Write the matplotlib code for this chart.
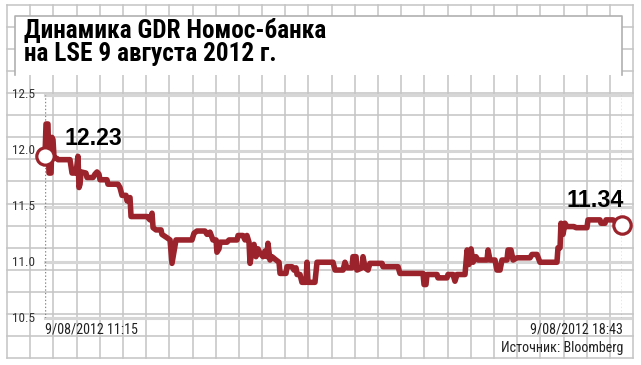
import matplotlib.pyplot as plt
from matplotlib import font_manager as fm
from matplotlib.patches import Rectangle
from matplotlib.transforms import blended_transform_factory

# minutes after 11:15 and GDR price, USD
minutes = [0, 0.8, 2.3, 3.1, 4.7, 5.4, 6.2, 7.0, 9.3, 10.1, 19.4, 21.0, 24.1, 25.6, 26.4,
           27.2, 28.0, 31.8, 32.6, 37.3, 38.8, 40.4, 41.9, 42.7, 48.1, 48.9, 56.7, 58.2,
           59.8, 62.9, 63.7, 66.0, 66.8, 79.2, 81.5, 83.1, 83.9, 86.2, 90.1, 90.8, 94.7,
           97.1, 98.6, 100.2, 101.7, 114.1, 115.7, 118.0, 124.2, 125.8, 128.1, 130.4,
           132.8, 133.5, 135.1, 135.9, 141.3, 142.9, 149.1, 149.9, 153.7, 155.3, 156.8,
           158.4, 159.2, 160.7, 162.3, 163.8, 165.4, 166.9, 169.3, 170.8, 172.4, 173.1,
           174.7, 176.2, 179.4, 181.7, 182.5, 187.1, 187.9, 191.8, 193.3, 194.9, 195.7,
           198.0, 199.5, 202.6, 203.4, 204.2, 209.6, 211.2, 213.5, 223.6, 225.2, 231.4,
           232.9, 234.5, 238.4, 239.1, 241.5, 242.2, 246.1, 246.9, 248.5, 250.8, 252.3,
           261.7, 262.4, 274.1, 275.6, 293.5, 294.3, 295.8, 296.6, 304.4, 305.1, 312.1,
           312.9, 316.8, 318.3, 319.9, 326.1, 327.7, 329.2, 330.8, 332.3, 334.6, 336.2,
           343.2, 344.0, 345.5, 349.4, 350.9, 353.3, 354.8, 358.7, 359.5, 361.8, 363.4,
           366.5, 376.6, 378.1, 382.0, 384.3, 397.5, 398.3, 399.9, 400.6, 402.2, 403.7,
           405.3, 410.7, 412.3, 420.8, 421.6, 430.9, 431.7, 434.8, 435.6, 441.0, 448.0]
price = [11.95, 12.24, 12.24, 11.80, 11.80, 12.12, 12.10, 11.94, 11.93, 11.92, 11.92, 11.80,
         11.80, 11.95, 11.67, 11.70, 11.81, 11.80, 11.76, 11.76, 11.79, 11.81, 11.79, 11.74,
         11.74, 11.70, 11.70, 11.67, 11.60, 11.60, 11.55, 11.58, 11.41, 11.41, 11.38, 11.44,
         11.31, 11.29, 11.29, 11.25, 11.22, 11.20, 10.99, 11.10, 11.20, 11.20, 11.26, 11.28,
         11.28, 11.25, 11.27, 11.20, 11.20, 11.09, 11.12, 11.18, 11.18, 11.20, 11.20, 11.24,
         11.24, 11.20, 11.24, 11.18, 10.99, 11.10, 11.16, 11.05, 11.12, 11.08, 11.05, 11.10,
         11.05, 11.17, 11.02, 11.05, 11.02, 11.00, 10.90, 10.90, 10.96, 10.96, 10.93, 10.95,
         10.89, 10.89, 10.82, 10.82, 11.00, 10.82, 10.82, 11.00, 11.00, 11.00, 10.93, 10.93,
         11.00, 10.95, 10.95, 11.05, 11.05, 10.93, 10.95, 11.05, 10.95, 10.93, 10.99, 10.99,
         10.96, 10.96, 10.90, 10.90, 10.80, 10.80, 10.89, 10.89, 10.86, 10.86, 10.89, 10.89,
         10.83, 10.89, 10.89, 11.11, 10.98, 11.12, 11.00, 11.05, 11.02, 11.02, 11.11, 11.02,
         11.02, 10.93, 10.93, 11.02, 11.02, 11.11, 11.11, 11.02, 11.04, 11.04, 11.07, 11.07,
         11.00, 11.00, 11.13, 11.13, 11.35, 11.25, 11.35, 11.32, 11.32, 11.31, 11.31, 11.38,
         11.38, 11.35, 11.35, 11.38, 11.38, 11.33]

y_ticks = [12.5, 12.0, 11.5, 11.0, 10.5]
y_labels = ["12.5", "12.0", "11.5", "11.0", "10.5"]
start_label = "9/08/2012 11:15"
end_label = "9/08/2012 18:43"
max_label = "12.23"
last_label = "11.34"
title = "Динамика GDR Номос-банка\nна LSE 9 августа 2012 г."

W, H = 641, 365
red = "#9b232b"
grid_c = "#c4c4c4"


# look for some condensed face, otherwise plain sans
def pick_narrow():
    fonts = fm.fontManager.ttflist
    for name in ["Liberation Sans Narrow", "Roboto Condensed", "Noto Sans Condensed"]:
        if any(f.name == name for f in fonts):
            return dict(family=[name, "DejaVu Sans"])
    for name in ["DejaVu Sans", "Noto Sans", "Open Sans"]:
        if any(f.name == name and "condensed" in str(f.stretch) for f in fonts):
            return dict(family=[name], fontstretch="condensed")
    return dict(family=["Roboto", "DejaVu Sans"])


narrow = pick_narrow()

fig = plt.figure(figsize=(W / 100, H / 100), dpi=100)
renderer = fig.canvas.get_renderer()


def fit(t, width, max_size=None):
    w = t.get_window_extent(renderer).width
    size = t.get_fontsize() * width / w
    if max_size:
        size = min(size, max_size)
    t.set_fontsize(size)


# background "graph paper"
bg = fig.add_axes([0, 0, 1, 1])
bg.set_xlim(0, W)
bg.set_ylim(H, 0)
bg.axis("off")
for k in range(28):
    x = 7 + k * 23.19
    bg.plot([x, x], [5, 358], color=grid_c, lw=1.1)
for k in range(17):
    y = 5 + k * 22.06
    bg.plot([7, 633], [y, y], color=grid_c, lw=1.1)

# title box
bg.add_patch(Rectangle((15, 16), 607, 59, facecolor="white", edgecolor="none", zorder=3))
bg.plot([15, 15, 622, 622], [75, 16, 16, 75], color="#b0b0b0", lw=1.2, zorder=4)
tt = bg.text(24, 18, title, fontsize=18.2, fontweight="bold", color="black",
             va="top", ha="left", linespacing=0.93, zorder=5, **narrow)

# chart area
ax = fig.add_axes([45 / W, (H - 318) / H, 577 / W, 223 / H])
ax.set_xlim(0, 448)
ax.set_ylim(10.5, 12.5)
ax.axis("off")
ax.patch.set_alpha(0)

for v in y_ticks:
    ax.axhline(v, xmin=0, xmax=(630 - 45) / 577, color="#d6d6d6", lw=2.2, clip_on=False, zorder=1)

tr = blended_transform_factory(fig.transFigure, ax.transData)
for v, lab in zip(y_ticks, y_labels):
    t = ax.text(12 / W, v, lab, transform=tr, fontsize=8.5, color="#333333",
                ha="left", va="center", **narrow)
    fit(t, 23, 9.5)

ax.plot([0, 0], [10.5, 12.5], color="#888888", lw=1, ls=(0, (1, 1.5)), zorder=2)
ax.plot([448, 448], [10.5, 12.5], color="#888888", lw=1, ls=(0, (1, 1.5)), zorder=2)

ax.plot(minutes, price, color=red, lw=4.0, solid_joinstyle="round", solid_capstyle="round",
        zorder=3, clip_on=False)
ax.plot([minutes[0], minutes[-1]], [price[0], price[-1]], ls="none", marker="o",
        markersize=12.5, markerfacecolor="white", markeredgecolor=red, markeredgewidth=2.3,
        zorder=4, clip_on=False)

a1 = ax.text(15.5, 12.05, max_label, fontsize=15.5, fontweight="bold", family="Liberation Sans",
             ha="left", va="baseline", zorder=5)
a2 = ax.text(449.5, 11.495, last_label, fontsize=15.5, fontweight="bold", family="Liberation Sans",
             ha="right", va="baseline", zorder=5)
fit(a1, 58)
fit(a2, 57)

s1 = ax.text(0, 10.40, start_label, fontsize=9.8, color="#222222",
             ha="left", va="center", **narrow)
s2 = ax.text(449, 10.40, end_label, fontsize=9.8, color="#222222",
             ha="right", va="center", **narrow)
s3 = ax.text(449, 10.23, "Источник: Bloomberg", fontsize=9.8, color="#222222",
             ha="right", va="center", **narrow)
fit(s1, 93, 10.5)
fit(s2, 93, 10.5)
fit(s3, 122, 10.5)

fig.savefig("out.png", dpi=100)
